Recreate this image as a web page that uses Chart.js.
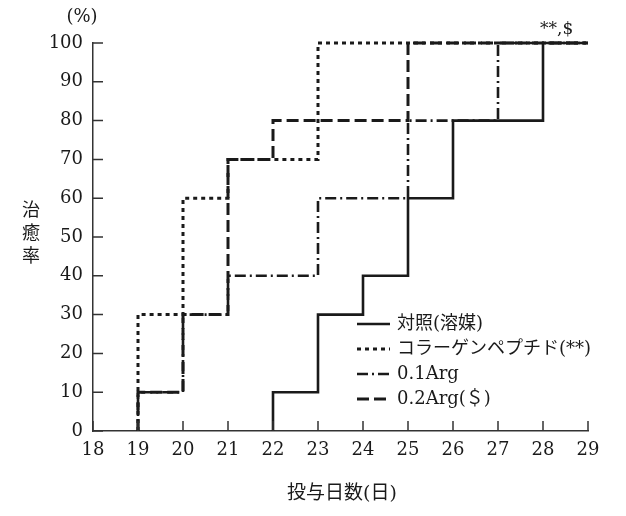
<!DOCTYPE html>
<html>
<head>
<meta charset="utf-8">
<script src="https://cdn.jsdelivr.net/npm/chart.js@4"></script>
<style>
  html, body { margin: 0; padding: 0; background: #fff; }
  #wrap { width: 626px; height: 516px; }
</style>
</head>
<body>
<div id="wrap"><canvas id="chart" width="626" height="516"></canvas></div>
<script>
const FONT = "'DejaVu Serif', 'Noto Sans CJK JP', serif";
const INK = "#1a1a1a";

// step data: x = day, y = healing rate (%)
const ctrlX = [22, 22, 23, 24, 25, 26, 28, 29];
const ctrlY = [0, 10, 30, 40, 60, 80, 100, 100];
const collagenX = [19, 19, 20, 21, 23, 29];
const collagenY = [0, 30, 60, 70, 100, 100];
const arg01X = [19, 19, 20, 21, 23, 25, 27, 29];
const arg01Y = [0, 10, 30, 40, 60, 80, 100, 100];
const arg02X = [19, 19, 20, 21, 22, 25, 29];
const arg02Y = [0, 10, 30, 70, 80, 100, 100];

const seriesNames = ["対照(溶媒)", "コラーゲンペプチド(**)", "0.1Arg", "0.2Arg(＄)"];
const xTicks = [18, 19, 20, 21, 22, 23, 24, 25, 26, 27, 28, 29];
const yTicks = [0, 10, 20, 30, 40, 50, 60, 70, 80, 90, 100];

function pts(xs, ys) { return xs.map((x, i) => ({ x: x, y: ys[i] })); }

const styles = [
  { dash: [], width: 2.6 },
  { dash: [4, 4], width: 3 },
  { dash: [11, 4, 2, 4], width: 2.6 },
  { dash: [12, 5], width: 3 }
];
const seriesData = [pts(ctrlX, ctrlY), pts(collagenX, collagenY), pts(arg01X, arg01Y), pts(arg02X, arg02Y)];

// draw order: dotted/dashed first, solid on top
const order = [1, 3, 2, 0];
const datasets = order.map(i => ({
  label: seriesNames[i],
  data: seriesData[i],
  borderColor: INK,
  borderWidth: styles[i].width,
  borderDash: styles[i].dash,
  stepped: 'before',
  pointRadius: 0,
  fill: false,
  clip: false
}));

const decor = {
  id: 'decor',
  afterDraw(chart) {
    const c = chart.ctx, xs = chart.scales.x, ys = chart.scales.y;
    const a = chart.chartArea;
    c.save();
    // inward ticks
    c.strokeStyle = "#333";
    c.lineWidth = 1.5;
    c.beginPath();
    yTicks.forEach(v => {
      const py = ys.getPixelForValue(v);
      c.moveTo(a.left, py); c.lineTo(a.left + 10, py);
    });
    xTicks.forEach(v => {
      const px = xs.getPixelForValue(v);
      c.moveTo(px, a.bottom); c.lineTo(px, a.bottom - 10);
    });
    c.stroke();

    c.fillStyle = INK;
    c.font = "18px " + FONT;
    c.textBaseline = 'middle';
    // (%)
    c.textAlign = 'center';
    c.fillText("(%)", 82, 17);
    // y title stacked
    ["治", "癒", "率"].forEach((ch, i) => c.fillText(ch, 31, 211 + i * 23));
    // x title
    c.font = "19px " + FONT;
    c.fillText("投与日数(日)", 342, 494);
    // significance mark
    c.textAlign = 'left';
    c.font = "17px " + FONT;
    c.fillText("**,$", 540, 30);

    // legend
    const lx = 357, ly = 324, step = 25;
    [0, 1, 2, 3].forEach((i, k) => {
      const y = ly + k * step;
      c.setLineDash(styles[i].dash);
      c.lineWidth = styles[i].width;
      c.strokeStyle = INK;
      c.beginPath(); c.moveTo(lx, y); c.lineTo(lx + 33, y); c.stroke();
      c.setLineDash([]);
      c.font = "18px " + FONT;
      c.fillText(seriesNames[i], lx + 40, y);
    });
    c.restore();
  }
};

new Chart(document.getElementById('chart'), {
  type: 'line',
  data: { datasets: datasets },
  options: {
    responsive: false,
    animation: false,
    layout: { padding: { left: 0, right: 38, top: 43, bottom: 0 } },
    plugins: { legend: { display: false }, tooltip: { enabled: false } },
    scales: {
      x: {
        type: 'linear', min: 18, max: 29,
        afterBuildTicks: s => { s.ticks = xTicks.map(v => ({ value: v })); },
        afterFit: s => { s.height = 85; },
        grid: { display: false, drawTicks: false },
        border: { display: true, color: "#333", width: 1.5 },
        ticks: { color: INK, font: { family: FONT, size: 18 }, padding: 9, maxRotation: 0, autoSkip: false }
      },
      y: {
        min: 0, max: 100,
        afterBuildTicks: s => { s.ticks = yTicks.map(v => ({ value: v })); },
        afterFit: s => { s.width = 93; },
        grid: { display: false, drawTicks: false },
        border: { display: true, color: "#333", width: 1.5 },
        ticks: { color: INK, font: { family: FONT, size: 18 }, padding: 10 }
      }
    }
  },
  plugins: [decor]
});
</script>
</body>
</html>
